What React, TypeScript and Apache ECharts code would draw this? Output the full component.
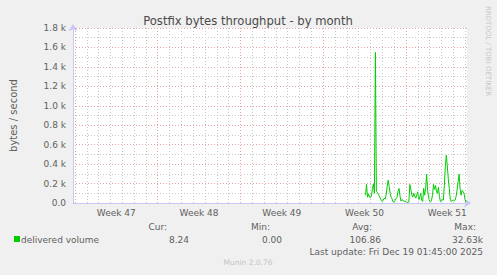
import React, { useEffect, useRef } from "react";
import * as echarts from "echarts";

// ---- data ----
const chartTitle = "Postfix bytes throughput - by month";
const yAxisName = "bytes / second";
const weekLabels = ["Week 47", "Week 48", "Week 49", "Week 50", "Week 51"];
// hours since the left edge of the 33-day window
const weekLabelHours = [88, 256, 424, 592, 760];
const weekStartHours = [4, 172, 340, 508, 676];
const dayLineHours = Array.from({ length: 34 }, (_, k) => 4 + 24 * k);
const windowHours = 800;
const sampleStartHour = 594;
const sampleStepHours = 2;
// delivered volume, bytes / second (2-hour averages)
const deliveredVolume = [
  80, 190, 60, 95, 60, 55, 70, 150, 195, 100,
  1550, 120, 110, 90, 70, 50, 25, 15, 30, 50,
  40, 90, 170, 235, 170, 100, 60, 40, 10, 15,
  25, 45, 60, 120, 150, 70, 20, 35, 30, 15,
  20, 10, 5, 8, 10, 190, 140, 80, 60, 100,
  70, 50, 80, 115, 30, 60, 100, 30, 15, 150,
  80, 150, 295, 130, 60, 20, 10, 30, 80, 190,
  140, 180, 120, 100, 160, 70, 15, 20, 35, 30,
  180, 380, 490, 380, 250, 150, 40, 15, 25, 30,
  20, 30, 70, 140, 220, 295, 150, 80, 130, 120,
  100, 40, 10,
];
const legendName = "delivered volume";
const statHeaders = ["Cur:", "Min:", "Avg:", "Max:"];
const statValues = ["8.24", "0.00", "106.86", "32.63k"];
const lastUpdate = "Last update: Fri Dec 19 01:45:00 2025";
const footer = "Munin 2.0.76";
const watermark = "RRDTOOL / TOBI OETIKER";

const FONT = "DejaVu Sans";
const LINE_GREEN = "#00cc00";
const MAJOR = "#e6a4a4";
const MINOR = "#c8c8c8";
const AXIS = "#c8c8f6";
const TEXT = "#606060";

export default function App() {
  const ref = useRef<HTMLDivElement>(null);
  useEffect(() => {
    document.body.style.margin = "0";
    const chart = echarts.init(ref.current!, null, { renderer: "svg" });
    const headerRight = [167, 270, 372, 476];
    const valueRight = [189, 282, 381, 483];
    const gridLines = [
      ...dayLineHours
        .filter((h) => !weekStartHours.includes(h))
        .map((h) => ({ xAxis: h, lineStyle: { color: MINOR, type: [1, 2], width: 1 } })),
      ...weekStartHours.map((h) => ({ xAxis: h, lineStyle: { color: MAJOR, type: [1, 2], width: 1 } })),
    ];
    const option: any = {
      animation: false,
      backgroundColor: "#f0f0f0",
      textStyle: { fontFamily: FONT },
      grid: { left: 67, top: 28, width: 400, height: 175, show: true, backgroundColor: "#ffffff", borderWidth: 0 },
      xAxis: {
        type: "value",
        min: 0,
        max: windowHours,
        axisLine: { show: true, lineStyle: { color: AXIS, width: 1 }, symbol: ["none", "arrow"], symbolSize: [7, 7], symbolOffset: [0, 4] },
        axisTick: { show: false },
        splitLine: { show: false },
        axisLabel: {
          customValues: weekLabelHours,
          formatter: (v: number) => weekLabels[weekLabelHours.indexOf(v)] ?? "",
          color: TEXT,
          fontSize: 9,
          fontFamily: FONT,
          margin: 5,
        },
      },
      yAxis: {
        type: "value",
        min: 0,
        max: 1800,
        interval: 100,
        name: yAxisName,
        nameLocation: "middle",
        nameRotate: 90,
        nameGap: 55,
        nameTextStyle: { color: TEXT, fontSize: 10, fontFamily: FONT },
        axisLine: { show: true, lineStyle: { color: AXIS, width: 1 }, symbol: ["none", "arrow"], symbolSize: [7, 7], symbolOffset: [0, 4] },
        axisTick: { show: false },
        axisLabel: {
          color: TEXT,
          fontSize: 9,
          fontFamily: FONT,
          margin: 7,
          formatter: (v: number) => (v % 200 !== 0 ? "" : v === 0 ? "0.0" : (v / 1000).toFixed(1) + " k"),
        },
        splitLine: { show: true, lineStyle: { color: [MAJOR, MINOR], type: [1, 2], width: 1 } },
      },
      series: [
        {
          type: "line",
          data: [],
          z: 1,
          silent: true,
          markLine: { silent: true, symbol: ["none", "none"], label: { show: false }, emphasis: { disabled: true }, data: gridLines },
        },
        {
          type: "line",
          name: legendName,
          z: 3,
          showSymbol: false,
          silent: true,
          lineStyle: { color: LINE_GREEN, width: 1 },
          itemStyle: { color: LINE_GREEN },
          data: deliveredVolume.map((v, i) => [sampleStartHour + i * sampleStepHours, v]),
        },
      ],
      graphic: [
        { type: "text", x: 248, y: 21, style: { text: chartTitle, font: `11.6px '${FONT}'`, fill: "#4a4a4a", textAlign: "center", textVerticalAlign: "middle" } },
        { type: "text", x: 488, y: 51, rotation: -Math.PI / 2, style: { text: watermark, font: `7px '${FONT}'`, fill: "#c8c8c8", textAlign: "center", textVerticalAlign: "middle" } },
        { type: "rect", shape: { x: 14, y: 236, width: 6, height: 6 }, style: { fill: LINE_GREEN } },
        { type: "text", x: 21, y: 239.5, style: { text: legendName, font: `9px '${FONT}'`, fill: TEXT, textAlign: "left", textVerticalAlign: "middle" } },
        ...statHeaders.map((t, i) => ({ type: "text", x: headerRight[i], y: 227, style: { text: t, font: `9px '${FONT}'`, fill: TEXT, textAlign: "right", textVerticalAlign: "middle" } })),
        ...statValues.map((t, i) => ({ type: "text", x: valueRight[i], y: 239.5, style: { text: t, font: `9px '${FONT}'`, fill: TEXT, textAlign: "right", textVerticalAlign: "middle" } })),
        { type: "text", x: 483, y: 251.5, style: { text: lastUpdate, font: `9px '${FONT}'`, fill: TEXT, textAlign: "right", textVerticalAlign: "middle" } },
        { type: "text", x: 248, y: 262.5, style: { text: footer, font: `7.5px '${FONT}'`, fill: "#c4c4c4", textAlign: "center", textVerticalAlign: "middle" } },
      ],
    };
    chart.setOption(option);
    return () => chart.dispose();
  }, []);
  return <div ref={ref} style={{ width: 497, height: 275 }} />;
}
